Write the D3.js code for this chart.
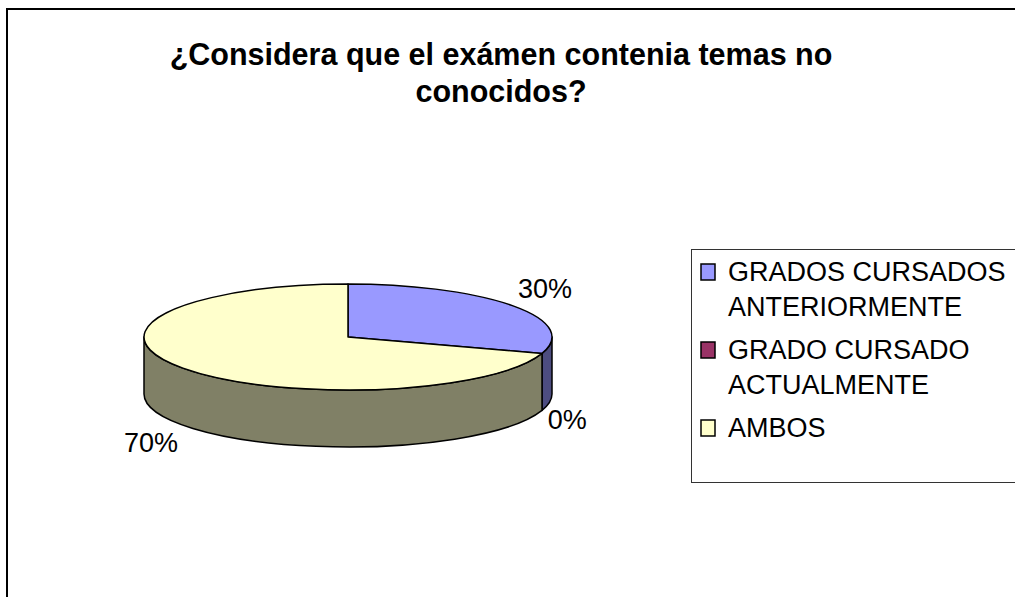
<!DOCTYPE html>
<html lang="es">
    <head>
        <meta charset="utf-8">
        <title>Pie 3D</title>
        <script src="https://d3js.org/d3.v7.min.js"></script>
        <style type="text/css">
            body { margin: 0; background: #fff; }
            text { font-family: "Liberation Sans", Arial, sans-serif; fill: #000; }
            .title { font-size: 30.5px; font-weight: bold; }
            .label { font-size: 27px; }
            .legend text { font-size: 27px; }
        </style>
    </head>
    <body>
        <script type="text/javascript">

            const w = 1015;
            const h = 597;

            // data
            const categories = ["GRADOS CURSADOS ANTERIORMENTE", "GRADO CURSADO ACTUALMENTE", "AMBOS"];
            const legendLines = [["GRADOS CURSADOS", "ANTERIORMENTE"], ["GRADO CURSADO", "ACTUALMENTE"], ["AMBOS"]];
            const values = [30, 0, 70];
            const titleLines = ["¿Considera que el exámen contenia temas no", "conocidos?"];

            const topColors = ["#9999ff", "#993366", "#ffffcc"];
            const sideColors = ["#4d4d80", "#4d1a33", "#808066"];

            const cx = 348, cy = 337, rx = 204, ry = 53, depth = 57;

            const svg = d3.select("body").append("svg").attr("width", w).attr("height", h);

            // outer chart border (runs off the right and bottom)
            svg.append("rect")
                .attr("x", 7).attr("y", 9)
                .attr("width", w + 20).attr("height", h + 20)
                .attr("fill", "none").attr("stroke", "#000").attr("stroke-width", 2);

            svg.append("text")
                .attr("class", "title")
                .attr("text-anchor", "middle")
                .selectAll("tspan")
                .data(titleLines)
                .enter().append("tspan")
                .attr("x", 501)
                .attr("y", (d, i) => 65 + i * 37)
                .text(d => d);

            const color = d3.scaleOrdinal().domain(categories).range(topColors);
            const sideColor = d3.scaleOrdinal().domain(categories).range(sideColors);

            const pie = d3.pie().sort(null).value(d => d.v)
                .startAngle(0).endAngle(2 * Math.PI);
            const arcs = pie(categories.map((c, i) => ({ c: c, v: values[i] })));

            const px = a => cx + rx * Math.sin(a);
            const py = a => cy - ry * Math.cos(a);

            function topPath(d) {
                if (d.endAngle - d.startAngle <= 0) return "";
                const large = (d.endAngle - d.startAngle) > Math.PI ? 1 : 0;
                return `M${cx},${cy} L${px(d.startAngle)},${py(d.startAngle)} ` +
                    `A${rx},${ry} 0 ${large} 1 ${px(d.endAngle)},${py(d.endAngle)} Z`;
            }

            // only the front half (pi/2 .. 3pi/2) of the rim shows
            function sidePath(d) {
                const s0 = Math.max(d.startAngle, Math.PI / 2);
                const s1 = Math.min(d.endAngle, 3 * Math.PI / 2);
                if (s1 <= s0) return "";
                const large = (s1 - s0) > Math.PI ? 1 : 0;
                return `M${px(s0)},${py(s0)} A${rx},${ry} 0 ${large} 1 ${px(s1)},${py(s1)} ` +
                    `L${px(s1)},${py(s1) + depth} A${rx},${ry} 0 ${large} 0 ${px(s0)},${py(s0) + depth} Z`;
            }

            const g = svg.append("g");

            g.selectAll(".side")
                .data(arcs)
                .enter().append("path")
                .attr("class", "side")
                .attr("d", sidePath)
                .attr("fill", d => sideColor(d.data.c))
                .attr("stroke", "#000").attr("stroke-width", 1.5)
                .attr("stroke-linejoin", "round");

            g.selectAll(".top")
                .data(arcs)
                .enter().append("path")
                .attr("class", "top")
                .attr("d", topPath)
                .attr("fill", d => color(d.data.c))
                .attr("stroke", "#000").attr("stroke-width", 1.5)
                .attr("stroke-linejoin", "round");

            // percentage labels
            g.selectAll(".label")
                .data(arcs)
                .enter().append("text")
                .attr("class", "label")
                .attr("x", d => {
                    const m = (d.startAngle + d.endAngle) / 2;
                    return cx + (rx + 6) * Math.sin(m);
                })
                .attr("y", d => {
                    const m = (d.startAngle + d.endAngle) / 2;
                    return cy - (ry + 30) * Math.cos(m) + (Math.cos(m) < 0 ? depth : 0);
                })
                .attr("dy", "0.35em")
                .attr("text-anchor", d => Math.sin((d.startAngle + d.endAngle) / 2) >= 0 ? "start" : "end")
                .text(d => d3.format(".0%")(d.value / d3.sum(values)));

            // legend
            svg.append("rect")
                .attr("x", 691.5).attr("y", 249.5)
                .attr("width", 400).attr("height", 233)
                .attr("fill", "none").attr("stroke", "#333").attr("stroke-width", 1);

            const legend = svg.selectAll(".legend")
                .data(categories)
                .enter().append("g")
                .attr("class", "legend")
                .attr("transform", (d, i) => `translate(701,${272 + i * 78})`);

            legend.append("rect")
                .attr("x", 0).attr("y", -8)
                .attr("width", 14).attr("height", 16)
                .attr("fill", d => color(d))
                .attr("stroke", "#000").attr("stroke-width", 1.5);

            legend.append("text")
                .selectAll("tspan")
                .data((d, i) => legendLines[i])
                .enter().append("tspan")
                .attr("x", 27)
                .attr("y", (d, j) => j * 35)
                .attr("dy", "0.35em")
                .text(d => d);
        </script>
    </body>
</html>
